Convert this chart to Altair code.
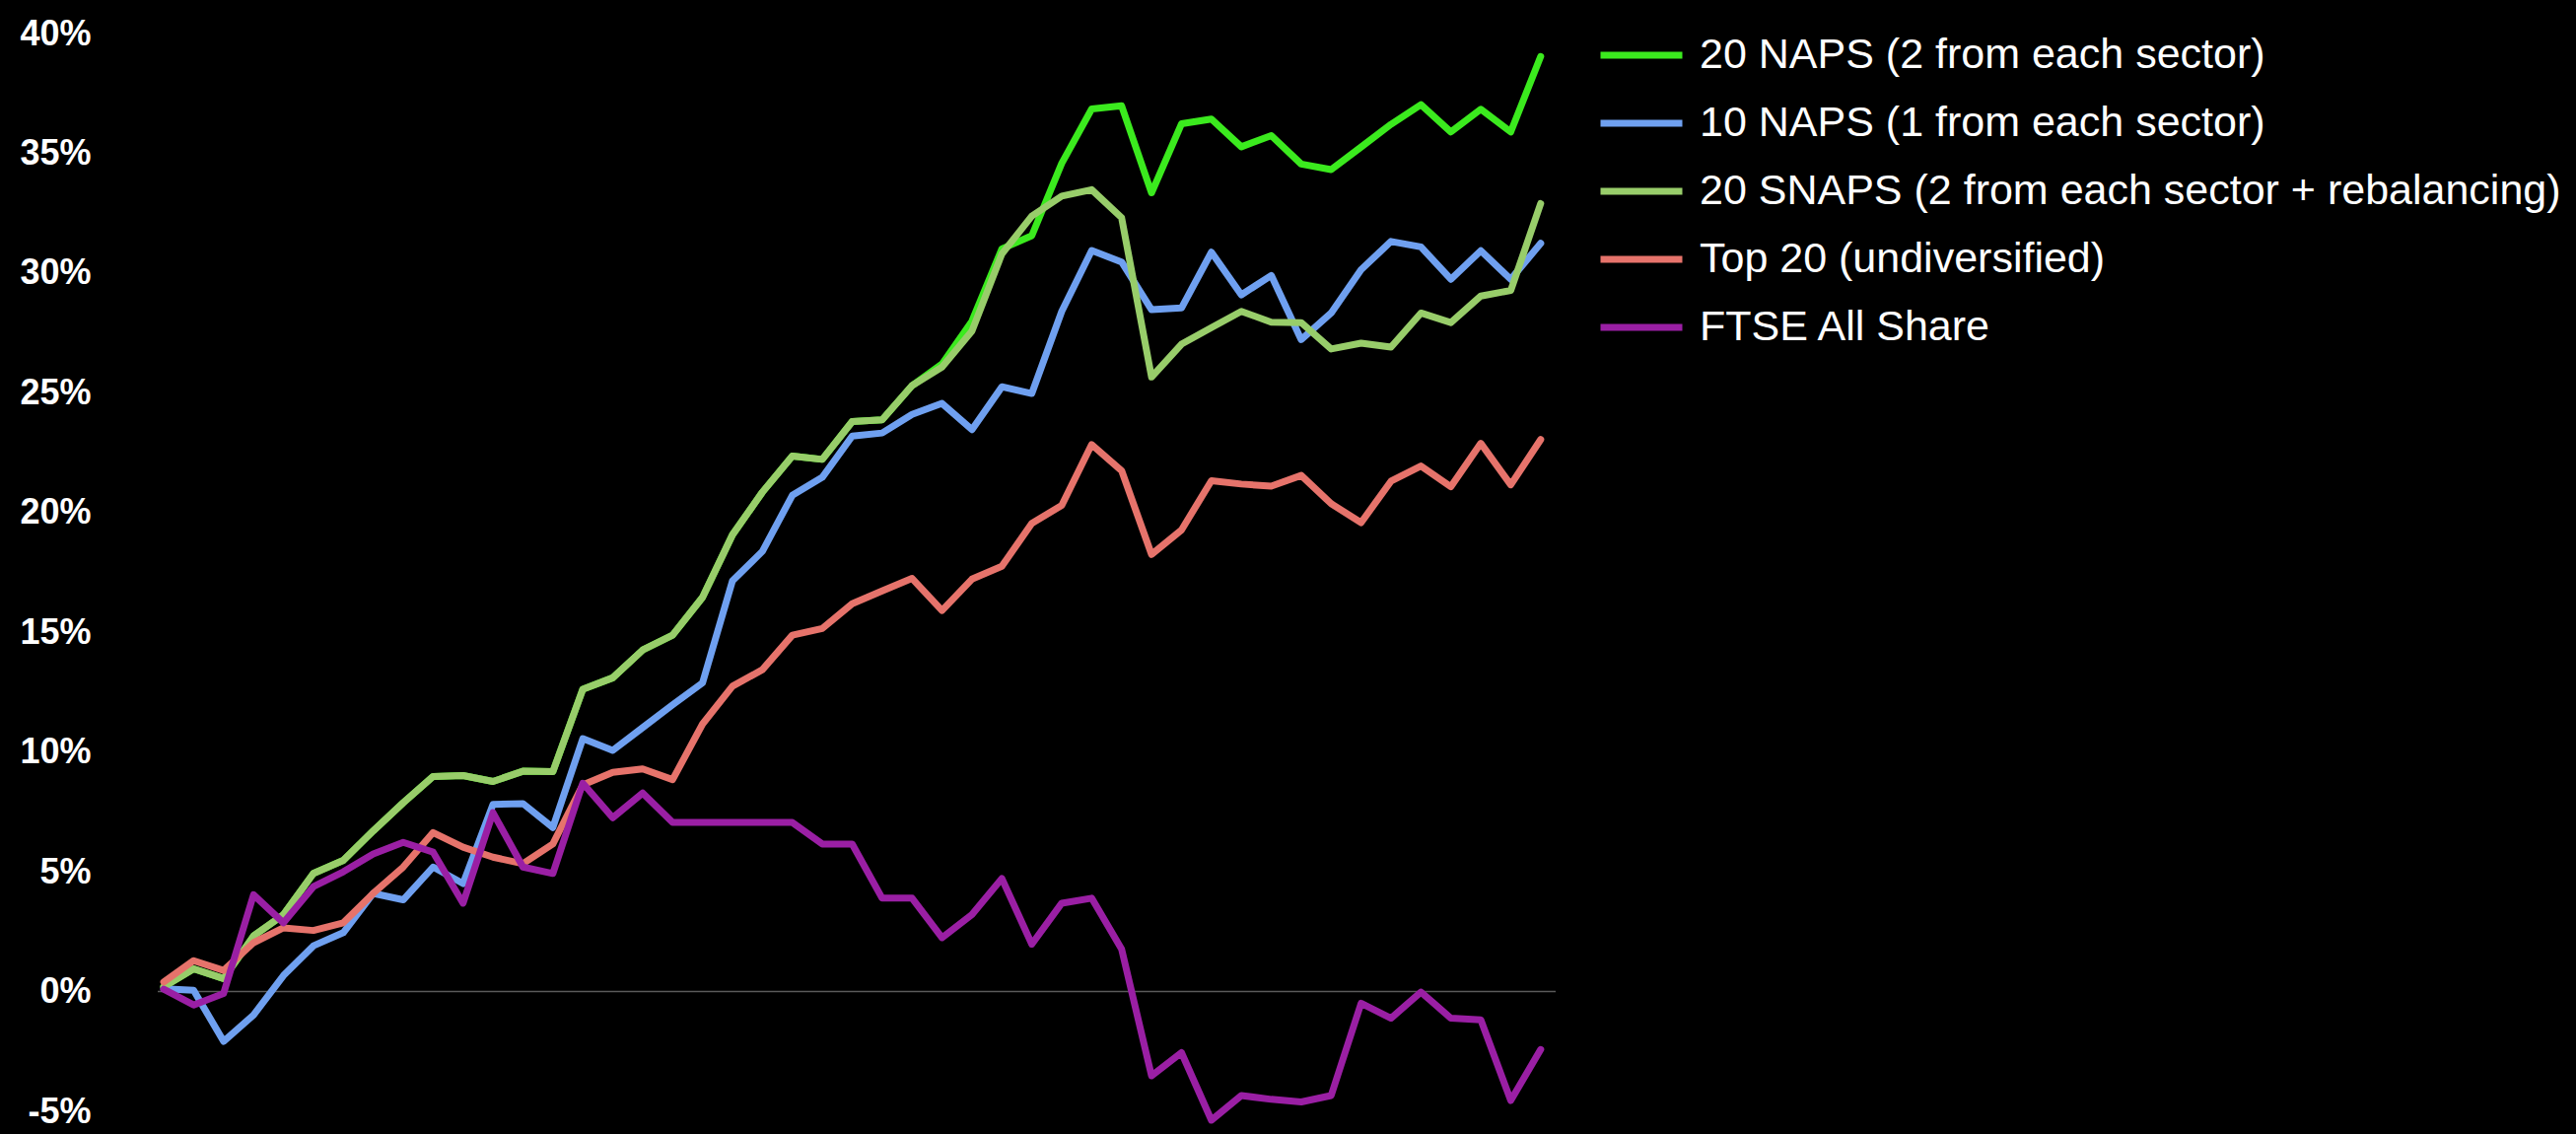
import altair as alt
import pandas as pd

# ---- data (cumulative return, %) ----
series_names = [
    "20 NAPS (2 from each sector)",
    "10 NAPS (1 from each sector)",
    "20 SNAPS (2 from each sector + rebalancing)",
    "Top 20 (undiversified)",
    "FTSE All Share",
]
series_colors = ["#3BEA1E", "#6FA0F0", "#98CD6A", "#E6736B", "#9A1FA4"]
series_widths = [7, 7, 7, 7, 3]

naps20 = [0.2, 0.95, 0.54, 2.32, 3.21, 4.93, 5.48, 6.71, 7.88, 8.98, 9.02, 8.77, 9.2, 9.18,
          12.62, 13.10, 14.26, 14.88, 16.46, 19.07, 20.85, 22.36, 22.22, 23.8, 23.87, 25.3,
          26.2, 27.99, 31.01, 31.56, 34.58, 36.85, 36.98, 33.35, 36.23, 36.43, 35.27, 35.74,
          34.55, 34.32, 35.26, 36.21, 37.03, 35.89, 36.84, 35.89, 39.04]
naps10 = [0.12, 0.05, -2.08, -0.98, 0.67, 1.91, 2.46, 4.10, 3.83, 5.20, 4.51, 7.81, 7.85, 6.85,
          10.56, 10.07, 11.02, 11.97, 12.89, 17.15, 18.38, 20.72, 21.47, 23.19, 23.32, 24.1,
          24.56, 23.46, 25.25, 24.97, 28.40, 30.94, 30.46, 28.47, 28.54, 30.87, 29.09, 29.9,
          27.22, 28.33, 30.14, 31.32, 31.09, 29.74, 30.93, 29.74, 31.24]
snaps20 = [0.2, 0.95, 0.54, 2.32, 3.21, 4.93, 5.48, 6.71, 7.88, 8.98, 9.02, 8.77, 9.2, 9.18,
           12.62, 13.10, 14.26, 14.88, 16.46, 19.07, 20.85, 22.36, 22.22, 23.8, 23.87, 25.3,
           26.07, 27.58, 30.8, 32.38, 33.21, 33.48, 32.31, 25.66, 27.03, 27.72, 28.40, 27.95,
           27.93, 26.83, 27.07, 26.91, 28.33, 27.93, 29.04, 29.27, 32.9]
top20 = [0.40, 1.29, 0.88, 2.04, 2.66, 2.55, 2.87, 4.10, 5.20, 6.64, 6.03, 5.61, 5.34, 6.16,
         8.63, 9.15, 9.3, 8.85, 11.17, 12.75, 13.44, 14.88, 15.16, 16.19, 16.73, 17.25,
         15.91, 17.22, 17.76, 19.55, 20.30, 22.84, 21.75, 18.25, 19.27, 21.33, 21.19, 21.1,
         21.55, 20.37, 19.58, 21.31, 21.94, 21.08, 22.89, 21.16, 23.05]
ftse = [0.1, -0.56, -0.08, 4.04, 2.87, 4.38, 5.0, 5.75, 6.23, 5.82, 3.69, 7.47, 5.2, 4.93,
        8.70, 7.26, 8.29, 7.06, 7.06, 7.06, 7.06, 7.06, 6.16, 6.16, 3.90, 3.90,
        2.25, 3.21, 4.72, 1.98, 3.69, 3.90, 1.77, -3.52, -2.55, -5.37, -4.34, -4.5,
        -4.61, -4.34, -0.49, -1.11, -0.02, -1.11, -1.18, -4.55, -2.42]

y_ticks = [-5, 0, 5, 10, 15, 20, 25, 30, 35, 40]

values = [naps20, naps10, snaps20, top20, ftse]
periods = list(range(len(naps20)))

rows = []
for name, vals in zip(series_names, values):
    for p, v in zip(periods, vals):
        rows.append({"period": p, "series": name, "ret": v})
df = pd.DataFrame(rows)

# ---- page background black, no margin (wrap the standard html template) ----
try:
    import altair.utils.html as _ah

    class _BlackPage:
        def __init__(self, t):
            self.t = t

        def render(self, **kw):
            html = self.t.render(**kw)
            css = "<style>html,body{background:#000;margin:0;padding:0;overflow:hidden;}</style>"
            if "<head>" in html:
                return html.replace("<head>", "<head>" + css, 1)
            return css + html

    _ah.TEMPLATES["standard"] = _BlackPage(_ah.TEMPLATES["standard"])
except Exception:
    pass

x_scale = alt.Scale(domain=[-0.2, 46.5], nice=False, zero=False)
y_scale = alt.Scale(domain=[-5, 40], nice=False, zero=False)

y_axis = alt.Axis(
    values=y_ticks,
    labelExpr="datum.value + '%'",
    grid=False,
    domain=False,
    ticks=False,
    tickSize=0,
    labelPadding=68,
    labelFont="Liberation Sans",
    labelFontSize=36,
    labelFontWeight="bold",
    labelColor="#ffffff",
    title=None,
)

leg = alt.Legend(
    title=None,
    orient="none",
    legendX=1460,
    legendY=-23,
    symbolType="stroke",
    symbolSize=6889,
    labelFont="Liberation Sans",
    labelFontSize=43,
    labelColor="#ffffff",
    labelOffset=14,
    rowPadding=2,
    labelLimit=2000,
    padding=0,
)

zero = alt.Chart(pd.DataFrame({"z": [0]})).mark_rule(color="#5a5a5a", strokeWidth=1.5).encode(
    y=alt.Y("z:Q", scale=y_scale, axis=y_axis)
)

lines = alt.Chart(df).mark_line(strokeJoin="round", strokeCap="round").encode(
    x=alt.X("period:Q", scale=x_scale, axis=None),
    y=alt.Y("ret:Q", scale=y_scale, axis=y_axis),
    color=alt.Color(
        "series:N",
        scale=alt.Scale(domain=series_names, range=series_colors),
        sort=series_names,
        legend=leg,
    ),
    strokeWidth=alt.StrokeWidth(
        "series:N",
        scale=alt.Scale(domain=series_names, range=series_widths),
        sort=series_names,
        legend=leg,
    ),
    detail="series:N",
    order="period:Q",
)

chart = (
    alt.layer(zero, lines)
    .properties(
        width=1418,
        height=1093,
        background="#000000",
        autosize=alt.AutoSizeParams(type="none"),
        padding={"left": 160, "top": 34, "right": 1033, "bottom": 22},
    )
    .configure_view(stroke=None)
)

chart.save("out.html", embed_options={"renderer": "svg", "actions": False})
